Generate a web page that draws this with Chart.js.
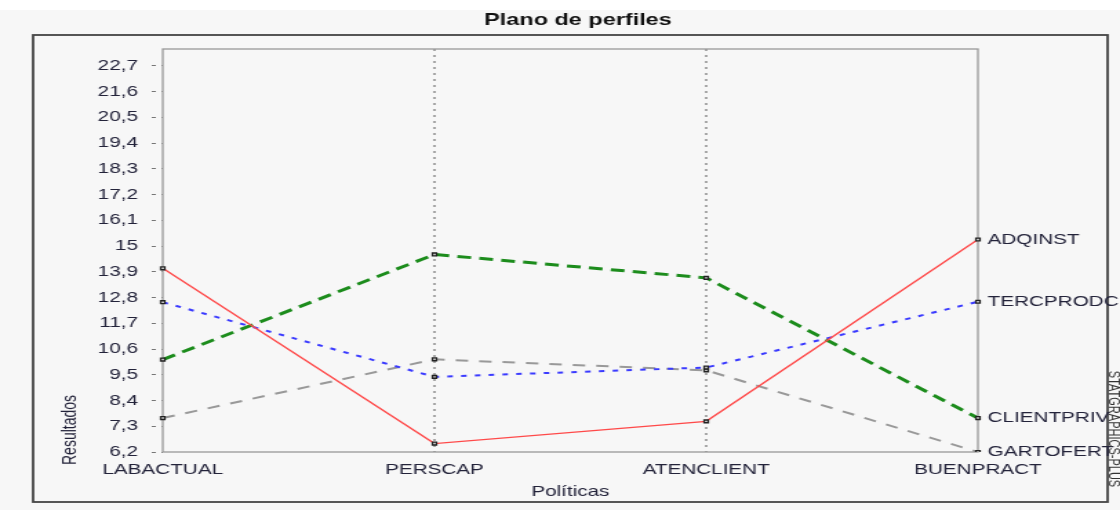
<!DOCTYPE html>
<html>
<head>
<meta charset="utf-8">
<script src="https://cdn.jsdelivr.net/npm/chart.js@4.4.1/dist/chart.umd.min.js"></script>
<style>
  html, body { margin: 0; padding: 0; background: #f7f7f7; overflow: hidden; }
  #wrap { width: 1120px; height: 510px; position: relative; }
  /* la imagen original está estirada a lo ancho */
  #grafico { width: 812px; height: 510px; transform: scaleX(1.3793); transform-origin: 0 0; }
</style>
</head>
<body>
<div id="wrap"><canvas id="grafico" width="812" height="510"></canvas></div>
<script>
// datos
var categorias = ["LABACTUAL", "PERSCAP", "ATENCLIENT", "BUENPRACT"];
var adqinst    = [14.05, 6.56, 7.51, 15.28];
var tercprodc  = [12.6, 9.41, 9.81, 12.62];
var clientpriv = [10.15, 14.64, 13.64, 7.65];
var gartofert  = [7.65, 10.16, 9.69, 6.2];
var marcasY    = [6.2, 7.3, 8.4, 9.5, 10.6, 11.7, 12.8, 13.9, 15, 16.1, 17.2, 18.3, 19.4, 20.5, 21.6, 22.7];

var fuente = "'Liberation Sans', Arial, sans-serif";
var colorTexto = "#23233a";

// marco, título, rótulos de series y líneas guía
var decoracion = {
  id: "decoracion",
  beforeDraw: function(chart) {
    var c = chart.ctx;
    c.save();
    c.fillStyle = "#f7f7f7";
    c.fillRect(0, 0, chart.width, chart.height);
    c.fillStyle = "#ffffff";
    c.fillRect(0, 0, chart.width, 10);
    c.restore();
  },
  beforeDatasetsDraw: function(chart) {
    var c = chart.ctx, a = chart.chartArea, x = chart.scales.x;
    c.save();
    // líneas punteadas verticales
    c.strokeStyle = "#666";
    c.lineWidth = 1.1;
    c.setLineDash([2, 4]);
    [1, 2].forEach(function(i) {
      var px = x.getPixelForValue(i);
      c.beginPath(); c.moveTo(px, a.top); c.lineTo(px, a.bottom); c.stroke();
    });
    c.setLineDash([]);
    // caja del área del gráfico
    c.strokeStyle = "#999";
    c.lineWidth = 1.3;
    c.strokeRect(a.left, a.top, a.right - a.left, a.bottom - a.top);
    c.restore();
  },
  afterDraw: function(chart) {
    var c = chart.ctx, a = chart.chartArea, y = chart.scales.y;
    c.save();
    // marco exterior
    c.strokeStyle = "#444";
    c.lineWidth = 1.8;
    c.strokeRect(24, 35, 779, 467);
    // título
    c.fillStyle = "#111";
    c.font = "bold 17px " + fuente;
    c.textAlign = "center";
    c.textBaseline = "middle";
    c.fillText("Plano de perfiles", 419, 20);
    // rótulos de series a la derecha
    c.font = "15px " + fuente;
    c.fillStyle = colorTexto;
    c.textAlign = "left";
    chart.data.datasets.forEach(function(ds) {
      var v = ds.data[ds.data.length - 1];
      c.fillText(ds.label, a.right + 7, y.getPixelForValue(v));
    });
    // título del eje Y
    c.save();
    c.translate(51, 430);
    c.rotate(-Math.PI / 2);
    c.textAlign = "center";
    c.font = "14px " + fuente;
    c.fillText("Resultados", 0, 0);
    c.restore();
    // marca lateral
    c.save();
    c.translate(807, 429);
    c.rotate(Math.PI / 2);
    c.textAlign = "center";
    c.font = "11px " + fuente;
    c.fillStyle = "#333";
    c.fillText("STATGRAPHICS-PLUS", 0, 0);
    c.restore();
    c.restore();
  }
};

function serie(nombre, valores, color, ancho, guion) {
  return {
    label: nombre,
    data: valores,
    borderColor: color,
    borderWidth: ancho,
    borderDash: guion,
    fill: false,
    tension: 0,
    pointStyle: "rect",
    pointRadius: 2,
    pointBorderWidth: 1.4,
    pointBorderColor: "#222",
    pointBackgroundColor: "#f7f7f7"
  };
}

new Chart(document.getElementById("grafico"), {
  type: "line",
  data: {
    labels: categorias,
    datasets: [
      serie("ADQINST", adqinst, "#ff4a4a", 1.4, []),
      serie("TERCPRODC", tercprodc, "#3a3aff", 2, [4, 6]),
      serie("CLIENTPRIV", clientpriv, "#1c8c1c", 3, [10, 6]),
      serie("GARTOFERT", gartofert, "#999999", 2, [9, 8])
    ]
  },
  plugins: [decoracion],
  options: {
    responsive: false,
    animation: false,
    layout: { padding: { left: 0, right: 103, top: 49, bottom: 0 } },
    plugins: { legend: { display: false }, title: { display: false }, tooltip: { enabled: false } },
    scales: {
      x: {
        type: "category",
        offset: false,
        afterFit: function(s) { s.height = 58; },
        grid: { display: false, drawTicks: false },
        border: { display: false },
        ticks: {
          autoSkip: false, maxRotation: 0, padding: 9,
          color: colorTexto, font: { family: fuente, size: 15 }
        },
        title: {
          display: true, text: "Políticas", color: colorTexto,
          font: { family: fuente, size: 15 }, padding: { top: 0, bottom: 9 }
        }
      },
      y: {
        min: 6.2,
        max: 23.42,
        afterFit: function(s) { s.width = 118; },
        afterBuildTicks: function(s) {
          s.ticks = marcasY.map(function(v) { return { value: v }; });
        },
        grid: {
          drawOnChartArea: false, drawTicks: true, tickLength: 8,
          tickColor: "#777", tickWidth: 1, tickBorderDash: [3, 4]
        },
        border: { display: false },
        ticks: {
          padding: 10,
          color: colorTexto,
          font: { family: fuente, size: 15 },
          callback: function(v) { return String(Math.round(v * 10) / 10).replace(".", ","); }
        }
      }
    }
  }
});
</script>
</body>
</html>
